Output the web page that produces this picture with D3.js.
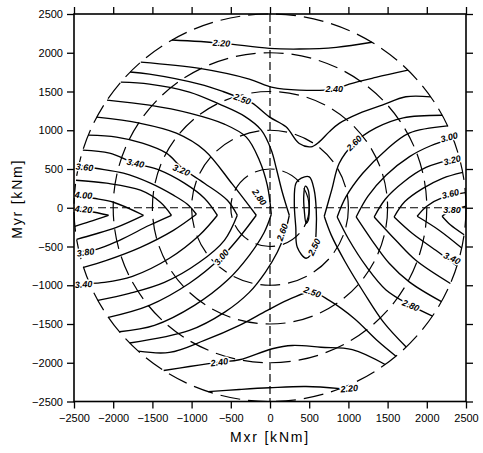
<!DOCTYPE html>
<html>
<head>
<meta charset="utf-8">
<script src="https://cdn.jsdelivr.net/npm/d3@7/dist/d3.min.js"></script>
<style>
  body { margin: 0; background: #fff; }
  svg { display: block; font-family: "Liberation Sans", Arial, sans-serif; }
</style>
</head>
<body>
<svg id="chart" width="483" height="453"></svg>
<script>
// axis ticks and the dashed reference circles (kNm)
const ticks = [-2500, -2000, -1500, -1000, -500, 0, 500, 1000, 1500, 2000, 2500];
const radii = [500, 1000, 1500, 2000, 2500];

// left family: ">" shaped contours, upper arm runs circle -> tip, lower arm tip -> circle
const leftLevels = ["2.60", "2.80", "3.00", "3.20", "3.40", "3.60", "3.80", "4.00", "4.20"];
const leftUpper = [
  [[-1903,1621],[-1538,1596],[-1028,1493],[-646,1337],[-327,1182],[-111,1001],[17,743],[80,510],[157,200],[246,-97]],
  [[-2079,1389],[-1538,1324],[-1028,1221],[-582,1079],[-302,911],[-136,614],[-34,290],[17,-84]],
  [[-2210,1169],[-1665,1092],[-1194,963],[-837,743],[-480,304],[-175,-97]],
  [[-2318,937],[-1958,911],[-1627,833],[-1321,704],[-1117,510],[-837,317],[-544,97],[-417,-97]],
  [[-2387,743],[-2047,704],[-1729,575],[-1410,485],[-1092,317],[-837,123],[-671,-97]],
  [[-2439,549],[-2226,510],[-1869,446],[-1525,317],[-1232,162],[-1054,45],[-939,-84]],
  [[-2475,355],[-2085,317],[-1652,226],[-1398,71],[-1257,-97]],
  [[-2495,162],[-2251,123],[-1996,71],[-1614,-97]],
  [[-2500,-19],[-2302,-45],[-2060,-97]]
];
const leftLower = [
  [[246,-97],[182,-355],[93,-575],[-60,-833],[-264,-1092],[-582,-1350],[-1028,-1583],[-1790,-1745]],
  [[17,-84],[-73,-316],[-264,-614],[-544,-937],[-964,-1260],[-1474,-1518],[-1920,-1600]],
  [[-175,-97],[-391,-381],[-620,-640],[-1028,-975],[-1538,-1260],[-2061,-1415]],
  [[-417,-97],[-582,-420],[-901,-704],[-1347,-963],[-1793,-1105],[-2196,-1195]],
  [[-671,-97],[-901,-355],[-1283,-652],[-1754,-885],[-2111,-963],[-2302,-975]],
  [[-939,-84],[-1232,-291],[-1652,-510],[-2085,-678],[-2379,-769]],
  [[-1257,-97],[-1538,-226],[-1920,-420],[-2213,-536],[-2436,-562]],
  [[-1614,-97],[-1958,-252],[-2238,-342],[-2467,-407]],
  [[-2060,-97],[-2302,-180],[-2489,-239]]
];

// right family: "<" shaped contours
const rightLevels = ["2.60", "2.80", "3.00", "3.20", "3.40", "3.60", "3.80"];
const rightUpper = [
  [[692,-110],[790,240],[883,575],[1074,833],[1350,1030],[1700,1160],[2197,1193]],
  [[857,-119],[968,140],[1180,442],[1478,743],[1775,963],[2266,1057]],
  [[1099,-119],[1250,150],[1480,420],[1780,660],[2050,800],[2334,896]],
  [[1329,-119],[1470,110],[1700,330],[1990,520],[2415,647]],
  [[1583,-119],[1720,80],[1950,250],[2200,380],[2458,456]],
  [[1877,-110],[2000,20],[2200,130],[2492,196]],
  [[2195,-110],[2322,-32],[2500,22]]
];
const rightLower = [
  [[692,-110],[780,-350],[960,-700],[1200,-1100],[1450,-1480],[1737,-1798]],
  [[857,-119],[1000,-400],[1230,-760],[1480,-1060],[1796,-1260],[2073,-1398]],
  [[1099,-119],[1300,-420],[1520,-717],[1780,-960],[2187,-1212]],
  [[1329,-119],[1605,-420],[1860,-678],[2301,-977]],
  [[1583,-119],[1813,-329],[2115,-549],[2384,-752]],
  [[1877,-110],[2157,-290],[2445,-520]],
  [[2195,-110],[2300,-220],[2476,-348]]
];

// low-value lines across the top and bottom
const topLines = [
  [[-1250,2165],[-620,2125],[-9,2057],[373,2048],[845,2070],[1300,2135]],
  [[-1648,1880],[-898,1798],[-264,1660],[34,1553],[373,1518],[819,1531],[1010,1596],[1350,1682],[1760,1775]],
  [[-1784,1751],[-1538,1725],[-901,1596],[-600,1500],[-353,1402],[-225,1350],[-9,1173],[204,1044],[373,829],
   [522,786],[628,850],[755,979],[883,1088],[1138,1217],[1431,1324],[1733,1432],[2050,1431]]
];
const bottomLines = [
  [[-790,-2372],[-391,-2345],[-9,-2323],[459,-2306],[896,-2334]],
  [[-1356,-2100],[-1028,-2048],[-646,-1992],[-391,-1961],[29,-1819],[284,-1777],[650,-1800],[1050,-1830],[1469,-2023]],
  [[-1680,-1851],[-1283,-1867],[-837,-1712],[-391,-1518],[-34,-1324],[271,-1169],[539,-1088],[755,-1195],
   [1074,-1428],[1367,-1712],[1607,-1915]]
];

// closed loops near the centre
const loops = [
  [[399,381],[501,398],[564,226],[590,-32],[590,-252],[564,-506],[462,-652],[348,-510],[329,-252],[310,58],[331,317]],
  [[450,278],[488,226],[501,32],[488,-162],[462,-200],[437,-32],[431,162]]
];

// contour labels: text, x, y, angle
const labels = [
  ["2.20", -620, 2125, 3], ["2.40", 819, 1531, 0], ["2.50", -353, 1402, 20],
  ["2.60", 1074, 833, -45], ["3.00", 2284, 911, -15], ["3.20", 2322, 614, -15],
  ["3.60", 2300, 180, -15], ["3.80", 2322, -32, 0], ["3.40", 2322, -652, 25],
  ["2.80", 1796, -1260, 22], ["2.20", 1010, -2332, -5], ["2.40", -646, -1992, -8],
  ["2.50", 539, -1088, 20], ["2.50", 564, -506, -65], ["2.60", 157, -316, -70],
  ["2.80", -136, 136, 55], ["3.00", -620, -640, -50], ["3.20", -1130, 485, 22],
  ["3.40", -1716, 575, 12], ["3.60", -2366, 523, 5], ["4.00", -2379, 162, 4],
  ["4.20", -2379, -19, 4], ["3.80", -2353, -575, -8], ["3.40", -2379, -988, -3]
];

const svg = d3.select("#chart");
const plotLeft = 74, plotRight = 466, plotTop = 14, plotBottom = 401.5;

const x = d3.scaleLinear().domain([-2500, 2500]).range([plotLeft, plotRight]);
const y = d3.scaleLinear().domain([-2500, 2500]).range([plotBottom, plotTop]);

const g = svg.append("g");

// dashed circles
g.selectAll("ellipse.ring").data(radii).enter().append("ellipse")
  .attr("class", "ring")
  .attr("cx", x(0)).attr("cy", y(0))
  .attr("rx", d => x(d) - x(0)).attr("ry", d => y(0) - y(d))
  .attr("fill", "none").attr("stroke", "#000").attr("stroke-width", 1.2)
  .attr("stroke-dasharray", "20,8");

// dashed zero lines
g.append("line").attr("x1", x(0)).attr("x2", x(0)).attr("y1", plotTop).attr("y2", plotBottom)
  .attr("stroke", "#000").attr("stroke-width", 1.2).attr("stroke-dasharray", "8,4");
g.append("line").attr("x1", plotLeft).attr("x2", plotRight).attr("y1", y(0)).attr("y2", y(0))
  .attr("stroke", "#000").attr("stroke-width", 1.2).attr("stroke-dasharray", "8,4");

// contours
const line = d3.line().x(d => x(d[0])).y(d => y(d[1])).curve(d3.curveCatmullRom.alpha(0.5));
const closed = d3.line().x(d => x(d[0])).y(d => y(d[1])).curve(d3.curveCatmullRomClosed.alpha(0.5));

const arms = [].concat(leftUpper, leftLower, rightUpper, rightLower, topLines, bottomLines);
g.selectAll("path.contour").data(arms).enter().append("path")
  .attr("class", "contour")
  .attr("d", line)
  .attr("fill", "none").attr("stroke", "#000").attr("stroke-width", 1.35)
  .attr("stroke-linejoin", "round");

g.selectAll("path.loop").data(loops).enter().append("path")
  .attr("class", "loop")
  .attr("d", closed)
  .attr("fill", "none").attr("stroke", "#000").attr("stroke-width", 1.35);

// contour labels with white halo
g.selectAll("text.lab").data(labels).enter().append("text")
  .attr("class", "lab")
  .attr("transform", d => `translate(${x(d[1])},${y(d[2])}) rotate(${d[3]})`)
  .attr("text-anchor", "middle").attr("dy", "0.35em")
  .attr("font-size", 9).attr("font-style", "italic").attr("font-weight", "bold")
  .attr("stroke", "#fff").attr("stroke-width", 3).attr("paint-order", "stroke")
  .attr("fill", "#000")
  .text(d => d[0]);

// axes
const fmt = d3.format("d");
svg.append("g").attr("transform", `translate(${plotLeft},0)`)
  .call(d3.axisLeft(y).tickValues(ticks).tickSize(7).tickPadding(4).tickFormat(fmt));
svg.append("g").attr("transform", `translate(0,${plotBottom})`)
  .call(d3.axisBottom(x).tickValues(ticks).tickSize(7).tickPadding(6).tickFormat(fmt));
svg.append("g").attr("transform", `translate(0,${plotTop})`)
  .call(d3.axisTop(x).tickValues(ticks).tickSize(7).tickFormat(""));
svg.append("g").attr("transform", `translate(${plotRight},0)`)
  .call(d3.axisRight(y).tickValues(ticks).tickSize(7).tickFormat(""));

svg.selectAll(".domain").remove();
svg.selectAll(".tick line").attr("stroke", "#000").attr("stroke-width", 1.3);
svg.selectAll(".tick text").attr("font-size", 11).attr("fill", "#000")
  .attr("font-family", "'Liberation Sans', Arial, sans-serif");

svg.append("rect")
  .attr("x", plotLeft).attr("y", plotTop).attr("width", plotRight - plotLeft).attr("height", plotBottom - plotTop)
  .attr("fill", "none").attr("stroke", "#000").attr("stroke-width", 1.6);

// axis titles
svg.append("text")
  .attr("x", (plotLeft + plotRight) / 2).attr("y", 442)
  .attr("text-anchor", "middle").attr("font-size", 14).attr("letter-spacing", 1.8)
  .attr("fill", "#000")
  .text("Mxr [kNm]");
svg.append("text")
  .attr("transform", `translate(22,${(plotTop + plotBottom) / 2 - 9}) rotate(-90)`)
  .attr("text-anchor", "middle").attr("font-size", 14).attr("letter-spacing", 1.8)
  .attr("fill", "#000")
  .text("Myr [kNm]");
</script>
</body>
</html>
